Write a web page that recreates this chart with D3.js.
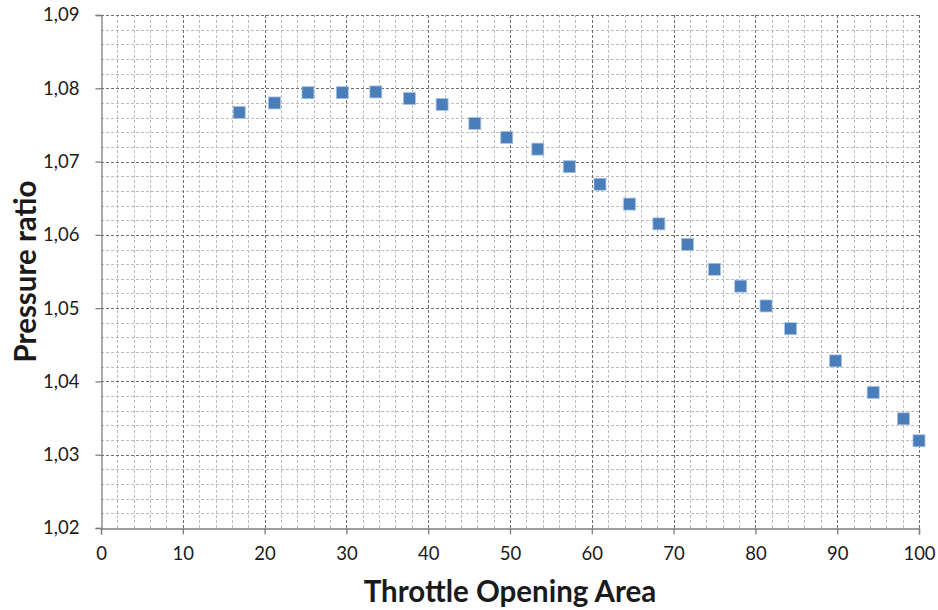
<!DOCTYPE html>
<html>
<head>
<meta charset="utf-8">
<script src="https://cdn.jsdelivr.net/npm/d3@7"></script>
<style>
  html, body { margin: 0; padding: 0; background: #fff; }
  svg { display: block; }
  text { font-family: Lato, "Open Sans", sans-serif; fill: #1a1a1a; }
</style>
</head>
<body>
<svg id="chart" width="938" height="610"></svg>
<script>
// Throttle opening area (%) and measured pressure ratio
const throttleArea = [16.9, 21.2, 25.3, 29.5, 33.6, 37.7, 41.7, 45.7, 49.6, 53.4, 57.25, 61.0,
                      64.6, 68.2, 71.7, 75.0, 78.2, 81.3, 84.3, 89.8, 94.4, 98.1, 100];
const pressureRatio = [1.0767, 1.0780, 1.0794, 1.0794, 1.0795, 1.0786, 1.0778, 1.0752, 1.0733, 1.0717,
                       1.0693, 1.0669, 1.0642, 1.0615, 1.0587, 1.0553, 1.0530, 1.0503, 1.0472, 1.0428,
                       1.0385, 1.0349, 1.0319];
const xTicks = [0, 10, 20, 30, 40, 50, 60, 70, 80, 90, 100];
const yTicks = [1.02, 1.03, 1.04, 1.05, 1.06, 1.07, 1.08, 1.09];
const xTitle = "Throttle Opening Area";
const yTitle = "Pressure ratio";

const svg = d3.select("#chart");
const margin = { left: 101, right: 19, top: 15, bottom: 82 };
const W = 938, H = 610;

const x = d3.scaleLinear().domain([0, 100]).range([margin.left, W - margin.right]);
const y = d3.scaleLinear().domain([1.02, 1.09]).range([H - margin.bottom, margin.top]);

const locale = d3.formatLocale({ decimal: ",", thousands: ".", grouping: [3], currency: ["", ""] });
const fmtY = locale.format(".2f");

// minor grid
const xMinor = d3.range(0, 100.001, 2).filter(v => v % 10 !== 0);
const yMinor = d3.range(0, 36).map(i => 1.02 + i * 0.002).filter((v, i) => i % 5 !== 0);

const grid = svg.append("g");
grid.selectAll(".xminor").data(xMinor).join("line")
  .attr("x1", d => Math.round(x(d)) + 0.5).attr("x2", d => Math.round(x(d)) + 0.5)
  .attr("y1", y(1.09)).attr("y2", y(1.02))
  .attr("stroke", "#bdbdbd").attr("stroke-width", 1).attr("stroke-dasharray", "3,2");
grid.selectAll(".yminor").data(yMinor).join("line")
  .attr("y1", d => Math.round(y(d)) + 0.5).attr("y2", d => Math.round(y(d)) + 0.5)
  .attr("x1", x(0)).attr("x2", x(100))
  .attr("stroke", "#bdbdbd").attr("stroke-width", 1).attr("stroke-dasharray", "3,2");
// major grid
grid.selectAll(".xmajor").data(xTicks.slice(1)).join("line")
  .attr("x1", d => Math.round(x(d)) + 0.5).attr("x2", d => Math.round(x(d)) + 0.5)
  .attr("y1", y(1.09)).attr("y2", y(1.02))
  .attr("stroke", "#6e6e6e").attr("stroke-width", 1).attr("stroke-dasharray", "3,2");
grid.selectAll(".ymajor").data(yTicks.slice(1)).join("line")
  .attr("y1", d => Math.round(y(d)) + 0.5).attr("y2", d => Math.round(y(d)) + 0.5)
  .attr("x1", x(0)).attr("x2", x(100))
  .attr("stroke", "#6e6e6e").attr("stroke-width", 1).attr("stroke-dasharray", "3,2");

// axes
const xAxis = svg.append("g")
  .attr("transform", `translate(0,${Math.round(y(1.02)) + 0.5})`)
  .call(d3.axisBottom(x).tickValues(xTicks).tickSize(6).tickPadding(12).tickFormat(d3.format("d")));
const yAxis = svg.append("g")
  .attr("transform", `translate(${Math.round(x(0)) + 0.5},0)`)
  .call(d3.axisLeft(y).tickValues(yTicks).tickSize(6).tickPadding(16).tickFormat(fmtY));

[xAxis, yAxis].forEach(a => {
  a.select(".domain").attr("stroke", "#7f7f7f").attr("stroke-width", 1.3);
  a.selectAll(".tick line").attr("stroke", "#7f7f7f").attr("stroke-width", 1.3);
  a.selectAll(".tick text").attr("font-size", 18.5).attr("fill", "#1a1a1a")
    .style("font-family", "Lato, 'Open Sans', sans-serif");
});
xAxis.selectAll(".tick line").attr("y1", 0);

// markers
const size = 12;
svg.append("g").selectAll("rect").data(throttleArea).join("rect")
  .attr("x", (d, i) => x(d) - size / 2)
  .attr("y", (d, i) => y(pressureRatio[i]) - size / 2)
  .attr("width", size).attr("height", size)
  .attr("fill", "#4a7ebb")
  .attr("stroke", "#a9c2e2").attr("stroke-width", 0.8);

// titles
svg.append("text")
  .attr("x", (x(0) + x(100)) / 2).attr("y", 602)
  .attr("text-anchor", "middle").attr("font-size", 29.5).attr("font-weight", "bold")
  .text(xTitle);
svg.append("text")
  .attr("transform", `translate(36,${(y(1.02) + y(1.09)) / 2}) rotate(-90)`)
  .attr("text-anchor", "middle").attr("font-size", 29.5).attr("font-weight", "bold")
  .text(yTitle);
</script>
</body>
</html>
